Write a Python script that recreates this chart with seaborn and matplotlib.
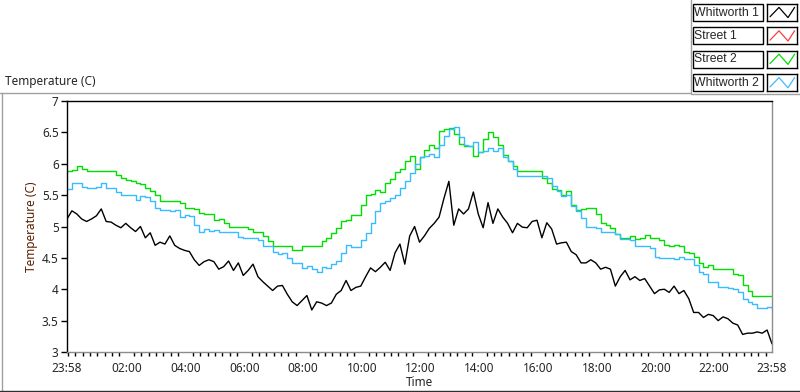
import numpy as np
import pandas as pd
import seaborn as sns
import matplotlib.pyplot as plt
import matplotlib.dates as mdates
from matplotlib.lines import Line2D
from matplotlib.patches import Rectangle
from matplotlib.ticker import FormatStrFormatter

# readings every 10 minutes, 23:58 -> 23:58 next day
whitworth_1 = [
    5.12, 5.25, 5.20, 5.12, 5.08, 5.12, 5.17, 5.28, 5.08, 5.07, 5.02, 4.98, 5.05,
    4.98, 4.92, 5.00, 4.82, 4.90, 4.70, 4.75, 4.72, 4.85, 4.70, 4.65, 4.62,
    4.60, 4.47, 4.38, 4.44, 4.47, 4.44, 4.32, 4.36, 4.45, 4.30, 4.42, 4.22, 4.30,
    4.40, 4.20, 4.12, 4.05, 3.98, 4.05, 4.06, 3.92, 3.80, 3.74, 3.82, 3.90,
    3.67, 3.80, 3.78, 3.74, 3.78, 3.92, 3.98, 4.14, 3.98, 4.03, 4.05, 4.20,
    4.34, 4.28, 4.35, 4.43, 4.30, 4.58, 4.72, 4.40, 4.85, 5.00, 4.75, 4.85,
    4.97, 5.05, 5.15, 5.45, 5.72, 5.02, 5.28, 5.20, 5.28, 5.55, 5.20, 4.98,
    5.38, 5.05, 5.28, 5.15, 5.05, 4.90, 5.05, 4.99, 4.98, 5.08, 5.10, 4.82,
    5.06, 4.96, 4.72, 4.74, 4.75, 4.60, 4.55, 4.42, 4.42, 4.47, 4.42, 4.32, 4.35,
    4.32, 4.05, 4.20, 4.30, 4.15, 4.20, 4.14, 4.17, 4.05, 3.93, 3.99, 4.00,
    3.95, 4.05, 3.93, 3.98, 3.85, 3.63, 3.63, 3.55, 3.60, 3.58, 3.50, 3.56,
    3.53, 3.46, 3.43, 3.28, 3.30, 3.30, 3.32, 3.30, 3.35, 3.13,
]
street_2 = [
    5.89, 5.90, 5.96, 5.92, 5.89, 5.89, 5.89, 5.89, 5.89, 5.89, 5.82, 5.78, 5.74,
    5.72, 5.69, 5.68, 5.62, 5.57, 5.50, 5.40, 5.40, 5.40, 5.40, 5.37, 5.30,
    5.30, 5.28, 5.22, 5.20, 5.20, 5.11, 5.12, 5.05, 5.00, 5.00, 5.00, 5.00, 4.96,
    4.91, 4.91, 4.85, 4.77, 4.69, 4.69, 4.69, 4.69, 4.62, 4.62, 4.69, 4.69,
    4.69, 4.69, 4.77, 4.82, 4.90, 4.98, 5.08, 5.10, 5.19, 5.19, 5.35, 5.50,
    5.52, 5.58, 5.55, 5.70, 5.76, 5.87, 5.92, 6.05, 6.12, 5.92, 6.10, 6.22,
    6.30, 6.25, 6.52, 6.55, 6.57, 6.47, 6.32, 6.28, 6.28, 6.12, 6.18, 6.39,
    6.50, 6.42, 6.30, 6.14, 6.05, 5.96, 5.88, 5.88, 5.88, 5.88, 5.88, 5.78,
    5.70, 5.60, 5.58, 5.50, 5.57, 5.35, 5.26, 5.28, 5.30, 5.30, 5.20, 5.06, 5.03,
    4.98, 4.88, 4.82, 4.82, 4.85, 4.80, 4.82, 4.86, 4.82, 4.82, 4.78, 4.71,
    4.69, 4.70, 4.69, 4.60, 4.58, 4.52, 4.42, 4.36, 4.38, 4.33, 4.33, 4.33,
    4.33, 4.25, 4.22, 4.07, 3.98, 3.90, 3.89, 3.89, 3.89, 3.89,
]
whitworth_2 = [
    5.60, 5.70, 5.69, 5.63, 5.62, 5.62, 5.63, 5.70, 5.62, 5.62, 5.55, 5.50, 5.50,
    5.50, 5.42, 5.48, 5.47, 5.40, 5.30, 5.27, 5.27, 5.25, 5.26, 5.15, 5.19,
    5.17, 5.02, 4.92, 4.96, 4.93, 4.95, 4.91, 4.91, 4.91, 4.91, 4.84, 4.82, 4.82,
    4.82, 4.78, 4.69, 4.69, 4.60, 4.56, 4.58, 4.50, 4.42, 4.42, 4.34, 4.37,
    4.32, 4.28, 4.36, 4.34, 4.40, 4.45, 4.58, 4.70, 4.68, 4.68, 4.79, 4.90,
    5.05, 5.24, 5.37, 5.40, 5.46, 5.50, 5.62, 5.72, 5.86, 6.00, 6.10, 6.13,
    6.15, 6.10, 6.30, 6.45, 6.55, 6.58, 6.42, 6.30, 6.28, 6.35, 6.18, 6.20,
    6.25, 6.20, 6.25, 6.10, 6.04, 5.92, 5.80, 5.80, 5.80, 5.80, 5.80, 5.80,
    5.77, 5.64, 5.56, 5.48, 5.50, 5.32, 5.24, 5.14, 5.00, 5.00, 4.98, 4.92, 4.92,
    4.92, 4.88, 4.80, 4.80, 4.78, 4.69, 4.69, 4.69, 4.66, 4.52, 4.50, 4.50,
    4.50, 4.49, 4.52, 4.49, 4.49, 4.38, 4.28, 4.24, 4.12, 4.11, 4.04, 4.04,
    4.02, 4.00, 3.96, 3.84, 3.79, 3.76, 3.70, 3.70, 3.72, 3.68,
]

series_names = ["Whitworth 1", "Street 1", "Street 2", "Whitworth 2"]
series_colors = ["#000000", "#ff3b3b", "#00e000", "#38bcff"]
y_ticks = [3, 3.5, 4, 4.5, 5, 5.5, 6, 6.5, 7]
x_tick_times = ["2013-05-01 23:58", "2013-05-02 02:00", "2013-05-02 04:00",
                "2013-05-02 06:00", "2013-05-02 08:00", "2013-05-02 10:00",
                "2013-05-02 12:00", "2013-05-02 14:00", "2013-05-02 16:00",
                "2013-05-02 18:00", "2013-05-02 20:00", "2013-05-02 22:00",
                "2013-05-02 23:58"]

times = pd.date_range(x_tick_times[0], periods=len(whitworth_1), freq="10min")
df = pd.DataFrame({"Time": times, "Whitworth 1": whitworth_1,
                   "Street 2": street_2, "Whitworth 2": whitworth_2})
long_df = df.melt(id_vars="Time", var_name="sensor", value_name="Temperature (C)")

sns.set_style("white")
plt.rcParams["font.family"] = ["Noto Sans", "DejaVu Sans"]
plt.rcParams["font.size"] = 8.5

W, H = 800, 392
fig = plt.figure(figsize=(W / 100, H / 100), dpi=100)
ax = fig.add_axes([67 / W, 1 - 352 / H, 705 / W, 251 / H])

colors = dict(zip(series_names, series_colors))
for name, style in [("Whitworth 1", "default"), ("Street 2", "steps-post"),
                    ("Whitworth 2", "steps-post")]:
    sns.lineplot(data=long_df[long_df["sensor"] == name], x="Time",
                 y="Temperature (C)", color=colors[name], lw=1,
                 drawstyle=style, estimator=None, legend=False, ax=ax)

tick_dt = pd.to_datetime(x_tick_times)
ax.set_xlim(tick_dt[0], tick_dt[-1])
ax.set_ylim(3, 7)
ax.set_yticks(y_ticks)
ax.yaxis.set_major_formatter(FormatStrFormatter("%g"))
ax.set_xticks(tick_dt)
ax.set_xticklabels([t.strftime("%H:%M") for t in tick_dt])
ax.xaxis.set_minor_locator(mdates.MinuteLocator(byminute=[0, 15, 30, 45]))
ax.tick_params(axis="x", which="major", direction="out", length=5, width=1.2,
               color="black", pad=2, labelsize=8.5)
ax.tick_params(axis="x", which="minor", direction="out", length=3, width=1,
               color="black", bottom=True)
ax.tick_params(axis="y", direction="out", length=4, width=1, color="black",
               pad=2, labelsize=8.5, left=True)

ax.set_xlabel("Time", fontsize=8.5, labelpad=1)
ax.set_ylabel("Temperature (C)", fontsize=8.5, color="#5a2000", labelpad=3)

for side in ["top", "left"]:
    ax.spines[side].set_color("black")
    ax.spines[side].set_linewidth(1)
for side in ["bottom", "right"]:
    ax.spines[side].set_color("#8c8c8c")
    ax.spines[side].set_linewidth(1)

# panel frame around the graph
def px_line(xs, ys, color, lw=1):
    fig.add_artist(Line2D([x / W for x in xs], [1 - y / H for y in ys],
                          color=color, lw=lw, transform=fig.transFigure))

px_line([0, 690], [92.5, 92.5], "#a0a0a0")
px_line([1.5, 1.5], [92.5, 391], "#a0a0a0")
px_line([0, 800], [390.5, 390.5], "#303030")
px_line([690.5, 690.5], [0, 93], "#a0a0a0")
px_line([690.5, 800], [93.5, 93.5], "#a0a0a0")

fig.text(5 / W, 1 - 81 / H, "Temperature (C)", fontsize=8.5, va="center",
         ha="left")

# legend boxes
for k, name in enumerate(series_names):
    top = 4 + 23.4 * k
    fig.add_artist(Rectangle((692.5 / W, 1 - (top + 17) / H), 70 / W, 17 / H,
                             fc="white", ec="black", lw=1,
                             transform=fig.transFigure))
    fig.text(694.5 / W, 1 - (top + 8.5) / H, name, fontsize=8.8,
             family=["Liberation Sans", "DejaVu Sans"], va="center",
             ha="left")
    gax = fig.add_axes([767 / W, 1 - (top + 17) / H, 30 / W, 17 / H])
    gax.plot([0.1, 0.4, 0.7, 0.92], [0.25, 0.8, 0.2, 0.8],
             color=series_colors[k], lw=0.9)
    gax.set_xlim(0, 1)
    gax.set_ylim(0, 1)
    gax.set_xticks([])
    gax.set_yticks([])
    for s in gax.spines.values():
        s.set_color("black")
        s.set_linewidth(1)

fig.savefig("out.png", dpi=100)
